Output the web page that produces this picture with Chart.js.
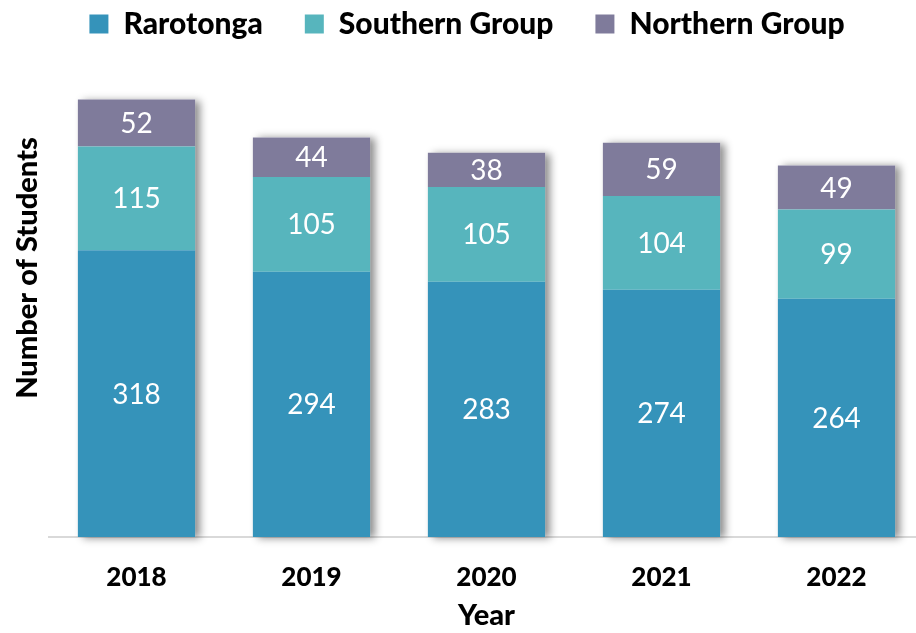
<!DOCTYPE html>
<html>
<head>
<meta charset="utf-8">
<script src="https://cdn.jsdelivr.net/npm/chart.js@4/dist/chart.umd.min.js"></script>
<style>
  html, body { margin: 0; padding: 0; overflow: hidden; background: #fff; }
  #wrap { width: 925px; height: 633px; }
</style>
</head>
<body>
<div id="wrap"><canvas id="c" width="925" height="633"></canvas></div>
<script>
var years = ['2018', '2019', '2020', '2021', '2022'];
var rarotonga = [318, 294, 283, 274, 264];
var southernGroup = [115, 105, 105, 104, 99];
var northernGroup = [52, 44, 38, 59, 49];

var FONT = 'Lato, "Open Sans", sans-serif';

// grey drop shadow behind each whole stack, then white value labels
var barDecor = {
  id: 'barDecor',
  beforeDatasetsDraw: function (chart) {
    var ctx = chart.ctx,
      first = chart.getDatasetMeta(0).data,
      last = chart.getDatasetMeta(chart.data.datasets.length - 1).data;
    ctx.save();
    ctx.shadowColor = 'rgba(0,0,0,0.45)';
    ctx.shadowBlur = 8;
    ctx.shadowOffsetX = 5;
    ctx.shadowOffsetY = 1;
    ctx.fillStyle = '#fff';
    first.forEach(function (bar, i) {
      var top = last[i].y, bottom = bar.base;
      ctx.fillRect(bar.x - bar.width / 2, top, bar.width, bottom - top);
    });
    ctx.restore();
  },
  afterDatasetsDraw: function (chart) {
    var ctx = chart.ctx;
    ctx.save();
    ctx.fillStyle = '#fff';
    ctx.font = '28px ' + FONT;
    ctx.textAlign = 'center';
    ctx.textBaseline = 'middle';
    chart.data.datasets.forEach(function (ds, d) {
      chart.getDatasetMeta(d).data.forEach(function (bar, i) {
        ctx.fillText(ds.data[i], bar.x, (bar.y + bar.base) / 2 + 1);
      });
    });
    ctx.restore();
  }
};

var legendHeight = {
  id: 'legendHeight',
  beforeInit: function (chart) {
    var fit = chart.legend.fit;
    chart.legend.fit = function () {
      fit.call(this);
      this.height = 119;
    };
  }
};

new Chart(document.getElementById('c'), {
  type: 'bar',
  data: {
    labels: years,
    datasets: [
      { label: 'Rarotonga', data: rarotonga, backgroundColor: '#3593ba' },
      { label: 'Southern Group', data: southernGroup, backgroundColor: '#57b5bd' },
      { label: 'Northern Group', data: northernGroup, backgroundColor: '#7f7b9b' }
    ]
  },
  plugins: [legendHeight, barDecor],
  options: {
    responsive: false,
    animation: false,
    layout: { padding: { top: -33, left: 10, right: 1, bottom: 0 } },
    datasets: {
      bar: { barPercentage: 0.67, categoryPercentage: 1 }
    },
    plugins: {
      tooltip: { enabled: false },
      legend: {
        position: 'top',
        labels: {
          boxWidth: 19,
          boxHeight: 19,
          padding: 42,
          color: '#000',
          font: { family: FONT, size: 30, weight: '900' }
        }
      }
    },
    scales: {
      x: {
        stacked: true,
        grid: { display: false, drawTicks: false },
        border: { display: true, color: '#d9d9d9', width: 2 },
        ticks: { color: '#000', padding: 25, font: { family: FONT, size: 26, weight: '900' } },
        title: {
          display: true, text: 'Year', color: '#000',
          padding: { top: 0, bottom: 0 },
          font: { family: FONT, size: 29, weight: '900' }
        },
        afterFit: function (s) { s.height = 96; }
      },
      y: {
        stacked: true,
        min: 0,
        max: 500,
        grid: { display: false, drawTicks: false },
        border: { display: false },
        ticks: { display: false },
        title: {
          display: true, text: '\u2003\u2003\u2003\u2003Number of Students', color: '#000',
          padding: { top: 0, bottom: 0 },
          font: { family: FONT, size: 29, weight: '900' }
        },
        afterFit: function (s) { s.width = 39; }
      }
    }
  }
});
</script>
</body>
</html>
